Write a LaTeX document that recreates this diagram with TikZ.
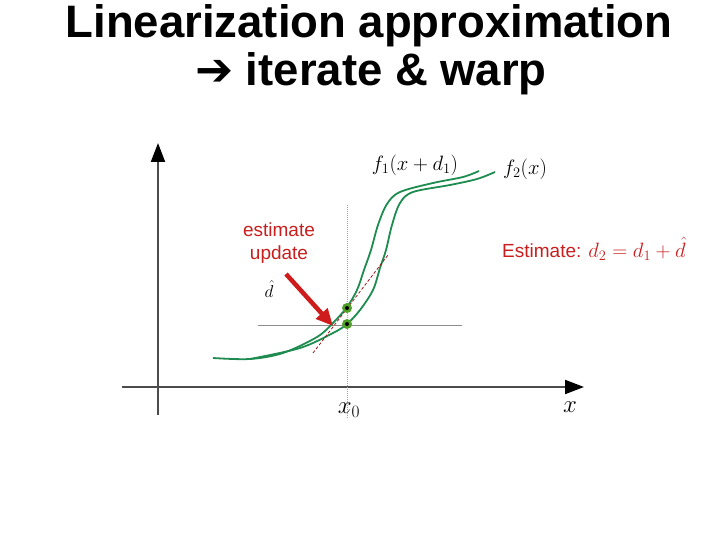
\documentclass[tikz,border=0pt]{standalone}
\usepackage{fontspec}
\setmainfont{Liberation Sans}
\newfontfamily\arrowfont{DejaVu Sans}
\usetikzlibrary{arrows.meta,positioning,calc}
\definecolor{curvegreen}{RGB}{30,140,80}
\definecolor{dotgreen}{RGB}{80,160,40}
\definecolor{estred}{RGB}{200,30,30}
\definecolor{guide}{RGB}{215,150,90}

\begin{document}
\begin{tikzpicture}[x=1pt,y=-1pt]

		\tikzset{title/.style={font=\fontsize{45.5}{48}\selectfont\bfseries,inner sep=0pt,anchor=base}}
		\tikzset{axis/.style={draw=black!70,line width=2pt,-{Triangle[length=19pt,width=14pt,color=black]}}}
		\tikzset{curve/.style={draw=curvegreen,line width=1.8pt}}
		\tikzset{dot/.style={shape=circle,fill=dotgreen,inner sep=0pt,minimum size=10pt}}
		\tikzset{redtxt/.style={text=estred,font=\fontsize{19}{22}\selectfont,inner sep=1pt}}
		\tikzset{mlabel/.style={font=\fontsize{22}{24}\selectfont,inner sep=0pt}}

		\useasboundingbox (0,0) rectangle (720,540);

		% title
		\node[title] (head1) at (369,38) {Linearization approximation};
		\node[title] (head2) at (371,86) {{\arrowfont ➔} iterate \& warp};

		% axes
		\coordinate (o1) at (158,415);
		\coordinate (ytop) at (158,143);
		\coordinate (o2) at (122,387);
		\coordinate (xend) at (584,387);
		\draw[axis] (o1) -- (ytop);
		\draw[axis] (o2) -- (xend);

		% guide lines
		\coordinate (g1) at (347,205);
		\coordinate (g2) at (347,418);
		\coordinate (h1) at (258,325);
		\coordinate (h2) at (462,325);
		\draw[guide,dash pattern=on 1pt off 1pt,line width=1pt] (g1) -- (g2);
		\draw[black!45,line width=0.8pt] (h1) -- (h2);

		% the two curves
		\draw[curve] plot[smooth,tension=0.55] coordinates {(213,358) (250,359) (283,353) (317,337) (333,323) (347,307) (357,290) (364,270) (371,250) (378,225) (387,204) (400,192) (433,183) (463,177) (479,171)};
		\draw[curve] plot[smooth,tension=0.55] coordinates {(250,359) (300,348) (333,333) (347,324) (360,310) (373,290) (380,268) (386,250) (392,225) (400,203) (413,192) (450,185) (477,179) (495,172)};

		% tangent
		\coordinate (tan1) at (313,353);
		\coordinate (tan2) at (388,255);
		\draw[estred!80!black,dash pattern=on 3pt off 2pt,line width=0.8pt] (tan1) -- (tan2);

		% points
		\node[dot] (p1) at (347,308) {};
		\node[dot] (p2) at (347,324) {};
		\fill (p1) circle (2pt);
		\fill (p2) circle (2pt);

		% labels
		\node[mlabel] (lf1) at (415,165) {$f_1(x+d_1)$};
		\node[mlabel] (lf2) at (525,169) {$f_2(x)$};
		\node[mlabel,font=\fontsize{24}{26}\selectfont] (lx0) at (349,410) {$x_0$};
		\node[mlabel,font=\fontsize{24}{26}\selectfont] (lx) at (570,407) {$x$};

		\node[redtxt] (est) at (279,230) {estimate};
		\node[redtxt,below=6pt of est] (upd) {update};
		\node[mlabel,font=\fontsize{19}{20}\selectfont] (dhat) at (269,289) {$\hat{d}$};
		\node[redtxt,anchor=base west] (res) at (501,257) {Estimate: {\fontsize{21}{22}\selectfont$d_2 = d_1 + \hat{d}$}};

		\coordinate (tail) at (286,274);
		\coordinate (hit) at (333,326);
		\draw[estred!90!red,line width=4.5pt,-{Triangle[length=17pt,width=15pt]}] (tail) -- (hit);

	\end{tikzpicture}
\end{document}
